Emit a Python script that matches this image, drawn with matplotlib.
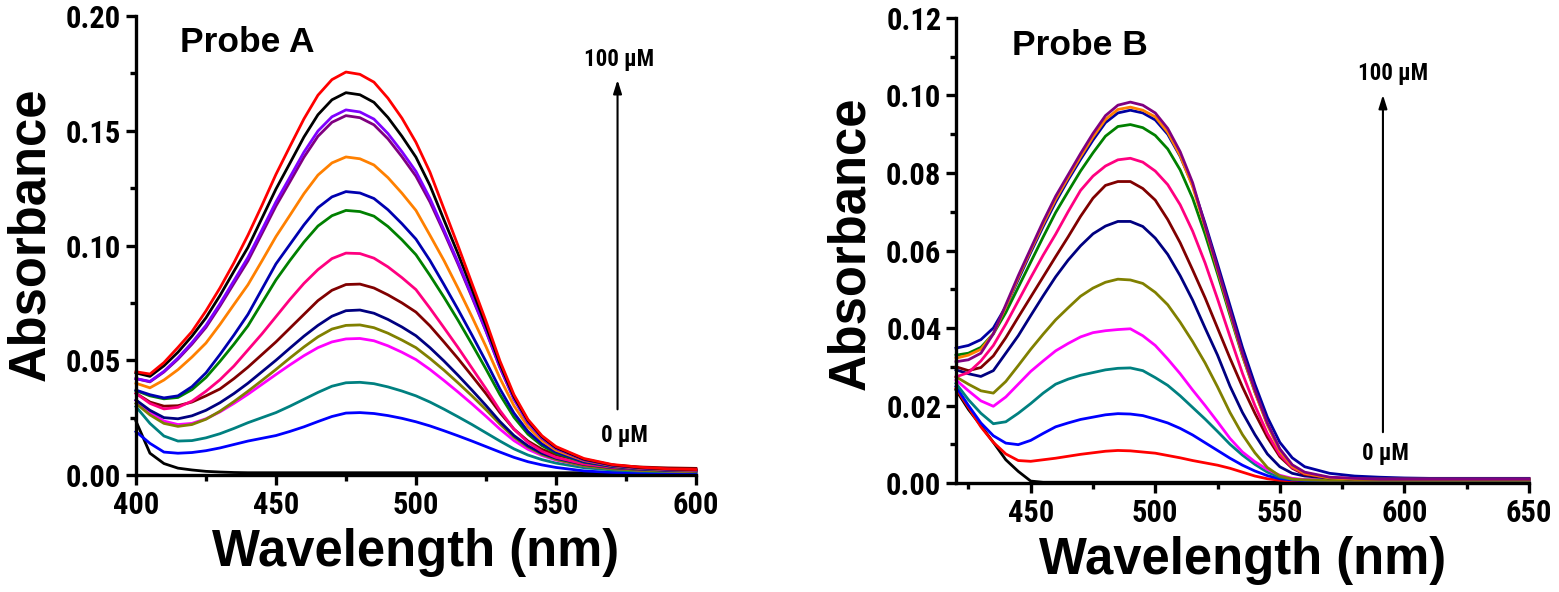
import matplotlib
matplotlib.use("Agg")
import matplotlib.pyplot as plt

# narrow faces first if any is installed, otherwise plain Liberation Sans
NARROW = ["Liberation Sans Narrow", "Roboto Condensed", "Open Sans Condensed", "Liberation Sans"]

# ---- Probe A (400-600 nm) ----
wl_a = [400, 405, 410, 415, 420, 425, 430, 435, 440, 445, 450, 455, 460, 465, 470, 475, 480, 485,
        490, 495, 500, 505, 510, 515, 520, 525, 530, 535, 540, 545, 550, 560, 570, 580, 590, 600]

red_a = [0.0450, 0.0440, 0.0490, 0.0556, 0.0625, 0.0715, 0.0815, 0.0925, 0.1045, 0.1175, 0.1310, 0.1432,
         0.1552, 0.1655, 0.1723, 0.1756, 0.1746, 0.1712, 0.1642, 0.1555, 0.1450, 0.1320, 0.1160, 0.1000,
         0.0835, 0.0671, 0.0497, 0.0350, 0.0242, 0.0171, 0.0124, 0.0072, 0.0046, 0.0034, 0.0027, 0.0024]
black_a = [0.0445, 0.0430, 0.0476, 0.0535, 0.0605, 0.0685, 0.0782, 0.0888, 0.0992, 0.1119, 0.1246, 0.1359,
           0.1473, 0.1570, 0.1635, 0.1666, 0.1657, 0.1624, 0.1558, 0.1476, 0.1385, 0.1262, 0.1112, 0.0965,
           0.0810, 0.0652, 0.0485, 0.0342, 0.0237, 0.0167, 0.0120, 0.0069, 0.0044, 0.0032, 0.0026, 0.0023]
violet_a = [0.0420, 0.0408, 0.0452, 0.0510, 0.0577, 0.0652, 0.0746, 0.0847, 0.0948, 0.1068, 0.1190, 0.1298,
            0.1407, 0.1499, 0.1561, 0.1591, 0.1582, 0.1551, 0.1488, 0.1409, 0.1323, 0.1205, 0.1068, 0.0928,
            0.0780, 0.0630, 0.0470, 0.0332, 0.0230, 0.0162, 0.0117, 0.0067, 0.0043, 0.0031, 0.0025, 0.0022]
purple_a = [0.0420, 0.0406, 0.0449, 0.0505, 0.0570, 0.0643, 0.0736, 0.0835, 0.0933, 0.1052, 0.1172, 0.1278,
            0.1385, 0.1476, 0.1537, 0.1566, 0.1557, 0.1526, 0.1465, 0.1387, 0.1302, 0.1190, 0.1058, 0.0920,
            0.0775, 0.0627, 0.0468, 0.0331, 0.0229, 0.0161, 0.0116, 0.0066, 0.0043, 0.0031, 0.0025, 0.0022]
orange_a = [0.0400, 0.0380, 0.0414, 0.0459, 0.0514, 0.0575, 0.0656, 0.0743, 0.0829, 0.0933, 0.1039, 0.1132,
            0.1226, 0.1307, 0.1360, 0.1386, 0.1378, 0.1351, 0.1296, 0.1228, 0.1153, 0.1045, 0.0935, 0.0815,
            0.0690, 0.0560, 0.0422, 0.0302, 0.0210, 0.0150, 0.0108, 0.0063, 0.0041, 0.0029, 0.0023, 0.0020]
royal_a = [0.0370, 0.0350, 0.0336, 0.0345, 0.0385, 0.0445, 0.0525, 0.0610, 0.0700, 0.0810, 0.0920, 0.1005,
           0.1090, 0.1165, 0.1212, 0.1235, 0.1229, 0.1205, 0.1156, 0.1095, 0.1028, 0.0935, 0.0830, 0.0722,
           0.0610, 0.0495, 0.0375, 0.0270, 0.0190, 0.0136, 0.0100, 0.0058, 0.0038, 0.0027, 0.0021, 0.0018]
green_a = [0.0368, 0.0345, 0.0332, 0.0338, 0.0372, 0.0425, 0.0495, 0.0570, 0.0650, 0.0750, 0.0850, 0.0935,
           0.1015, 0.1085, 0.1130, 0.1153, 0.1148, 0.1128, 0.1083, 0.1025, 0.0960, 0.0870, 0.0775, 0.0675,
           0.0570, 0.0462, 0.0350, 0.0252, 0.0178, 0.0128, 0.0095, 0.0056, 0.0037, 0.0027, 0.0022, 0.0019]
pink_a = [0.0356, 0.0312, 0.0288, 0.0295, 0.0322, 0.0365, 0.0415, 0.0475, 0.0545, 0.0615, 0.0690, 0.0765,
          0.0835, 0.0895, 0.0943, 0.0967, 0.0965, 0.0945, 0.0907, 0.0860, 0.0808, 0.0727, 0.0642, 0.0556,
          0.0466, 0.0376, 0.0281, 0.0200, 0.0142, 0.0103, 0.0077, 0.0048, 0.0034, 0.0026, 0.0022, 0.0020]
wine_a = [0.0356, 0.0318, 0.0300, 0.0302, 0.0318, 0.0345, 0.0375, 0.0420, 0.0470, 0.0525, 0.0580, 0.0640,
          0.0700, 0.0760, 0.0805, 0.0830, 0.0832, 0.0815, 0.0785, 0.0750, 0.0710, 0.0650, 0.0580, 0.0508,
          0.0432, 0.0355, 0.0272, 0.0200, 0.0148, 0.0112, 0.0088, 0.0058, 0.0043, 0.0035, 0.0031, 0.0029]
navy_a = [0.0327, 0.0282, 0.0250, 0.0245, 0.0258, 0.0282, 0.0315, 0.0355, 0.0400, 0.0450, 0.0500, 0.0553,
          0.0605, 0.0652, 0.0692, 0.0716, 0.0719, 0.0705, 0.0678, 0.0645, 0.0607, 0.0555, 0.0497, 0.0435,
          0.0370, 0.0303, 0.0233, 0.0172, 0.0127, 0.0095, 0.0073, 0.0046, 0.0032, 0.0025, 0.0021, 0.0019]
olive_a = [0.0312, 0.0262, 0.0225, 0.0212, 0.0220, 0.0243, 0.0278, 0.0320, 0.0365, 0.0412, 0.0460, 0.0510,
           0.0558, 0.0602, 0.0636, 0.0652, 0.0654, 0.0642, 0.0618, 0.0588, 0.0555, 0.0508, 0.0457, 0.0402,
           0.0345, 0.0285, 0.0222, 0.0165, 0.0122, 0.0090, 0.0068, 0.0040, 0.0027, 0.0020, 0.0017, 0.0015]
magenta_a = [0.0325, 0.0272, 0.0235, 0.0220, 0.0225, 0.0245, 0.0275, 0.0312, 0.0352, 0.0395, 0.0438, 0.0480,
             0.0520, 0.0555, 0.0580, 0.0593, 0.0595, 0.0585, 0.0563, 0.0535, 0.0503, 0.0460, 0.0412, 0.0362,
             0.0310, 0.0256, 0.0200, 0.0150, 0.0112, 0.0085, 0.0065, 0.0040, 0.0028, 0.0021, 0.0018, 0.0016]
teal_a = [0.0298, 0.0225, 0.0170, 0.0148, 0.0150, 0.0162, 0.0180, 0.0203, 0.0228, 0.0250, 0.0272, 0.0300,
          0.0330, 0.0360, 0.0387, 0.0402, 0.0404, 0.0398, 0.0384, 0.0366, 0.0345, 0.0318, 0.0287, 0.0254,
          0.0220, 0.0184, 0.0148, 0.0114, 0.0087, 0.0067, 0.0052, 0.0032, 0.0022, 0.0017, 0.0015, 0.0014]
blue_a = [0.0189, 0.0138, 0.0100, 0.0095, 0.0098, 0.0106, 0.0118, 0.0133, 0.0148, 0.0160, 0.0172, 0.0190,
          0.0210, 0.0233, 0.0255, 0.0270, 0.0272, 0.0268, 0.0259, 0.0247, 0.0232, 0.0214, 0.0193, 0.0171,
          0.0148, 0.0124, 0.0100, 0.0077, 0.0058, 0.0044, 0.0033, 0.0018, 0.0011, 0.0008, 0.0006, 0.0005]
zero_a = [0.0235, 0.0095, 0.0050, 0.0030, 0.0022, 0.0016, 0.0013, 0.0011, 0.0010, 0.0010, 0.0010, 0.0010,
          0.0010, 0.0010, 0.0010, 0.0010, 0.0010, 0.0010, 0.0010, 0.0010, 0.0010, 0.0010, 0.0010, 0.0010,
          0.0010, 0.0010, 0.0010, 0.0010, 0.0010, 0.0010, 0.0010, 0.0010, 0.0010, 0.0010, 0.0010, 0.0010]

# ---- Probe B (420-650 nm) ----
wl_b = [420, 425, 430, 435, 440, 445, 450, 455, 460, 465, 470, 475, 480, 485, 490, 495, 500, 505, 510,
        515, 520, 525, 530, 535, 540, 545, 550, 555, 560, 570, 580, 590, 600, 610, 620, 630, 640, 650]

purple_b = [0.0313, 0.0318, 0.0335, 0.0385, 0.0460, 0.0535, 0.0605, 0.0675, 0.0740, 0.0795, 0.0850, 0.0902,
            0.0948, 0.0975, 0.0983, 0.0975, 0.0955, 0.0915, 0.0855, 0.0775, 0.0665, 0.0555, 0.0445, 0.0335,
            0.0240, 0.0155, 0.0088, 0.0047, 0.0028, 0.0015, 0.0012, 0.0010, 0.0010, 0.0010, 0.0010, 0.0010,
            0.0010, 0.0010]
orange_b = [0.0322, 0.0330, 0.0345, 0.0385, 0.0455, 0.0530, 0.0600, 0.0668, 0.0732, 0.0788, 0.0842, 0.0893,
            0.0938, 0.0964, 0.0970, 0.0962, 0.0945, 0.0905, 0.0845, 0.0765, 0.0660, 0.0550, 0.0440, 0.0330,
            0.0235, 0.0150, 0.0083, 0.0043, 0.0025, 0.0013, 0.0010, 0.0010, 0.0010, 0.0010, 0.0010, 0.0010,
            0.0010, 0.0010]
darkblue_b = [0.0348, 0.0355, 0.0370, 0.0400, 0.0455, 0.0525, 0.0595, 0.0662, 0.0725, 0.0782, 0.0835, 0.0885,
              0.0930, 0.0955, 0.0962, 0.0955, 0.0937, 0.0900, 0.0843, 0.0768, 0.0670, 0.0565, 0.0458, 0.0350,
              0.0255, 0.0170, 0.0105, 0.0065, 0.0042, 0.0025, 0.0018, 0.0015, 0.0013, 0.0012, 0.0012, 0.0012,
              0.0012, 0.0012]
green_b = [0.0330, 0.0335, 0.0350, 0.0385, 0.0440, 0.0505, 0.0570, 0.0635, 0.0698, 0.0752, 0.0805, 0.0852,
           0.0895, 0.0920, 0.0925, 0.0917, 0.0897, 0.0862, 0.0808, 0.0735, 0.0642, 0.0540, 0.0433, 0.0328,
           0.0235, 0.0152, 0.0086, 0.0045, 0.0026, 0.0013, 0.0010, 0.0010, 0.0010, 0.0010, 0.0010, 0.0010,
           0.0010, 0.0010]
pink_b = [0.0274, 0.0285, 0.0315, 0.0355, 0.0410, 0.0470, 0.0530, 0.0588, 0.0642, 0.0700, 0.0755, 0.0792,
          0.0818, 0.0834, 0.0838, 0.0828, 0.0805, 0.0770, 0.0718, 0.0650, 0.0568, 0.0475, 0.0378, 0.0283,
          0.0200, 0.0128, 0.0073, 0.0040, 0.0024, 0.0014, 0.0012, 0.0012, 0.0012, 0.0012, 0.0012, 0.0012,
          0.0012, 0.0012]
wine_b = [0.0300, 0.0290, 0.0298, 0.0328, 0.0375, 0.0428, 0.0480, 0.0532, 0.0584, 0.0635, 0.0688, 0.0735,
          0.0768, 0.0778, 0.0778, 0.0760, 0.0730, 0.0680, 0.0620, 0.0550, 0.0478, 0.0400, 0.0322, 0.0248,
          0.0180, 0.0118, 0.0068, 0.0038, 0.0022, 0.0013, 0.0010, 0.0010, 0.0010, 0.0010, 0.0010, 0.0010,
          0.0010, 0.0010]
navy_b = [0.0292, 0.0282, 0.0275, 0.0290, 0.0335, 0.0380, 0.0432, 0.0483, 0.0532, 0.0575, 0.0612, 0.0643,
          0.0663, 0.0675, 0.0675, 0.0662, 0.0632, 0.0590, 0.0535, 0.0472, 0.0400, 0.0330, 0.0250, 0.0182,
          0.0125, 0.0075, 0.0042, 0.0025, 0.0018, 0.0013, 0.0010, 0.0010, 0.0010, 0.0010, 0.0010, 0.0010,
          0.0010, 0.0010]
olive_b = [0.0274, 0.0255, 0.0238, 0.0232, 0.0262, 0.0303, 0.0345, 0.0384, 0.0421, 0.0452, 0.0482, 0.0503,
           0.0518, 0.0526, 0.0524, 0.0515, 0.0492, 0.0460, 0.0415, 0.0365, 0.0310, 0.0248, 0.0182, 0.0125,
           0.0078, 0.0040, 0.0018, 0.0010, 0.0008, 0.0007, 0.0007, 0.0007, 0.0007, 0.0007, 0.0007, 0.0007,
           0.0007, 0.0007]
magenta_b = [0.0266, 0.0238, 0.0212, 0.0198, 0.0222, 0.0255, 0.0288, 0.0315, 0.0341, 0.0360, 0.0377, 0.0388,
             0.0393, 0.0396, 0.0398, 0.0380, 0.0355, 0.0320, 0.0282, 0.0240, 0.0200, 0.0158, 0.0115, 0.0080,
             0.0055, 0.0035, 0.0020, 0.0012, 0.0009, 0.0008, 0.0008, 0.0008, 0.0008, 0.0008, 0.0008, 0.0008,
             0.0008, 0.0008]
teal_b = [0.0257, 0.0215, 0.0180, 0.0153, 0.0158, 0.0180, 0.0205, 0.0232, 0.0255, 0.0268, 0.0278, 0.0285,
          0.0292, 0.0296, 0.0297, 0.0290, 0.0272, 0.0252, 0.0225, 0.0195, 0.0165, 0.0133, 0.0100, 0.0072,
          0.0048, 0.0028, 0.0015, 0.0010, 0.0008, 0.0007, 0.0007, 0.0007, 0.0007, 0.0007, 0.0007, 0.0007,
          0.0007, 0.0007]
blue_b = [0.0249, 0.0200, 0.0155, 0.0122, 0.0103, 0.0099, 0.0110, 0.0128, 0.0145, 0.0155, 0.0164, 0.0170,
          0.0176, 0.0179, 0.0178, 0.0174, 0.0165, 0.0155, 0.0141, 0.0124, 0.0104, 0.0084, 0.0064, 0.0046,
          0.0031, 0.0019, 0.0011, 0.0008, 0.0006, 0.0006, 0.0006, 0.0006, 0.0006, 0.0006, 0.0006, 0.0006,
          0.0006, 0.0006]
red_b = [0.0244, 0.0195, 0.0145, 0.0105, 0.0075, 0.0058, 0.0056, 0.0060, 0.0064, 0.0069, 0.0074, 0.0078,
         0.0082, 0.0084, 0.0083, 0.0080, 0.0077, 0.0071, 0.0065, 0.0058, 0.0052, 0.0046, 0.0038, 0.0028,
         0.0018, 0.0011, 0.0007, 0.0005, 0.0005, 0.0005, 0.0005, 0.0005, 0.0005, 0.0005, 0.0005, 0.0005,
         0.0005, 0.0005]
zero_b = [0.0240, 0.0190, 0.0148, 0.0105, 0.0060, 0.0030, 0.0005, 0.0002, 0.0002, 0.0002, 0.0002, 0.0002,
          0.0002, 0.0002, 0.0002, 0.0002, 0.0002, 0.0002, 0.0002, 0.0002, 0.0002, 0.0002, 0.0002, 0.0002,
          0.0002, 0.0002, 0.0002, 0.0002, 0.0002, 0.0002, 0.0002, 0.0002, 0.0002, 0.0002, 0.0002, 0.0002,
          0.0002, 0.0002]

series_a = [(zero_a, "#000000"), (blue_a, "#0000FF"), (teal_a, "#008080"), (magenta_a, "#FF00FF"),
            (olive_a, "#808000"), (navy_a, "#000080"), (wine_a, "#800000"), (pink_a, "#FF0080"),
            (green_a, "#008000"), (royal_a, "#0000B0"), (orange_a, "#FF8000"), (purple_a, "#800080"),
            (violet_a, "#8000FF"), (black_a, "#000000"), (red_a, "#FF0000")]
series_b = [(zero_b, "#000000"), (red_b, "#FF0000"), (blue_b, "#0000FF"), (teal_b, "#008080"),
            (magenta_b, "#FF00FF"), (olive_b, "#808000"), (navy_b, "#000080"), (wine_b, "#800000"),
            (pink_b, "#FF0080"), (green_b, "#008000"), (darkblue_b, "#0000A0"), (orange_b, "#FF8000"),
            (purple_b, "#800080")]

fig = plt.figure(figsize=(15.59, 5.92), dpi=100)
ax1 = fig.add_axes([0.0872, 0.1976, 0.3592, 0.7753])
ax2 = fig.add_axes([0.6132, 0.1841, 0.3675, 0.7855])

label_font = dict(family="Liberation Sans", weight="bold", size=36.5)
tick_font = dict(family=NARROW, weight="bold", size=22)


def style(ax, xlim, ylim, xt, yt, xminor, yminor, ylab_y):
    ax.set_xlim(*xlim)
    ax.set_ylim(*ylim)
    for s in ["top", "right"]:
        ax.spines[s].set_visible(False)
    for s in ["left", "bottom"]:
        ax.spines[s].set_linewidth(2.4)
    ax.set_xticks(xt)
    ax.set_yticks(yt)
    ax.set_xticks(xminor, minor=True)
    ax.set_yticks(yminor, minor=True)
    ax.set_xticklabels([str(v) for v in xt], fontdict=tick_font)
    ax.set_yticklabels(["{:.2f}".format(v) for v in yt], fontdict=tick_font)
    ax.tick_params(which="major", direction="out", length=7.5, width=2.4, pad=3)
    ax.tick_params(which="minor", direction="out", length=4, width=2.4)
    ax.set_xlabel("Wavelength (nm)", fontdict=label_font, labelpad=6)
    ax.set_ylabel("Absorbance", fontdict=label_font, labelpad=8)
    ax.yaxis.label.set_y(ylab_y)


for vals, c in series_a:
    ax1.plot(wl_a, vals, color=c, lw=2.0, clip_on=False)
for vals, c in series_b:
    ax2.plot(wl_b, vals, color=c, lw=2.0, clip_on=False)

style(ax1, (400, 600), (0, 0.2), [400, 450, 500, 550, 600], [0.0, 0.05, 0.10, 0.15, 0.20],
      [425, 475, 525, 575], [0.025, 0.075, 0.125, 0.175], 0.525)
style(ax2, (420, 650), (0, 0.12), [450, 500, 550, 600, 650], [0.0, 0.02, 0.04, 0.06, 0.08, 0.10, 0.12],
      [425, 475, 525, 575, 625], [0.01, 0.03, 0.05, 0.07, 0.09, 0.11], 0.515)

ax1.text(415.7, 0.1843, "Probe A", family="Liberation Sans", weight="bold", size=25.5)
ax2.text(442.5, 0.1104, "Probe B", family="Liberation Sans", weight="bold", size=25.5)

small = dict(family=NARROW, weight="bold", size=16.5, ha="center", va="center")
arrow = dict(arrowstyle="-|>,head_length=0.8,head_width=0.25", color="black", lw=1.5)
ax1.annotate("", xy=(572, 0.1734), xytext=(572, 0.0274), arrowprops=arrow)
ax1.text(572.5, 0.181, "100 µM", **small)
ax1.text(574.6, 0.0174, "0 µM", **small)
ax2.annotate("", xy=(591.4, 0.1009), xytext=(591.4, 0.0124), arrowprops=arrow)
ax2.text(595.3, 0.1058, "100 µM", **small)
ax2.text(592.4, 0.0075, "0 µM", **small)

fig.savefig("out.png", dpi=100)
